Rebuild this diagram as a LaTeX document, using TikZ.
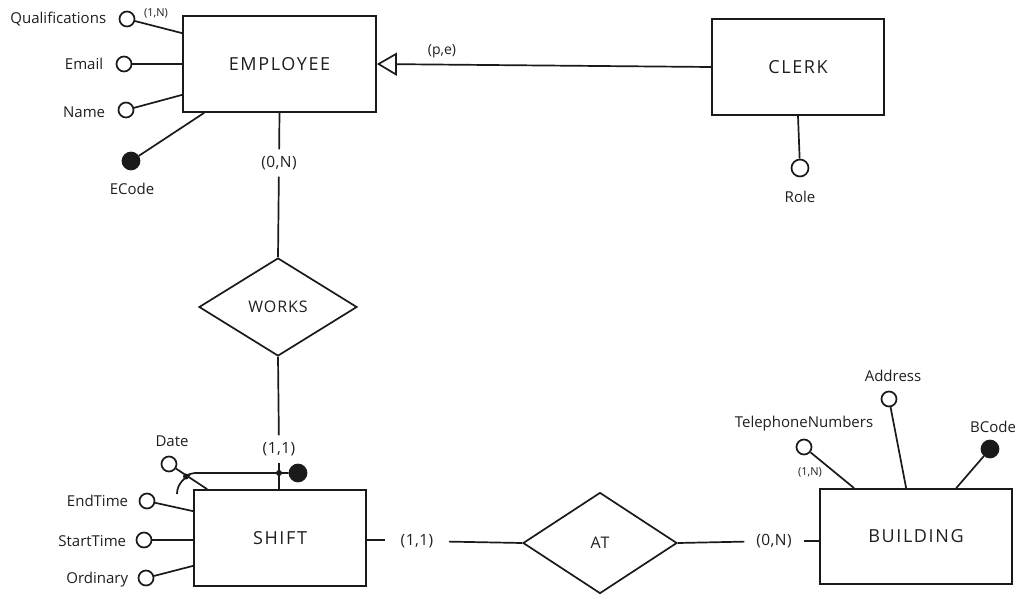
\documentclass[tikz,border=0pt]{standalone}
\usepackage{fontspec}
\setmainfont{Open Sans}
\newfontfamily\entfam[LetterSpace=9]{Open Sans}
\newfontfamily\relfam[LetterSpace=6]{Open Sans}
\newfontfamily\cardfam[LetterSpace=3]{Open Sans}
\usetikzlibrary{shapes.geometric,arrows.meta,calc}
\newcommand\myentfont{\entfam\fontsize{18}{21}\selectfont}
\newcommand\myrelfont{\relfam\fontsize{16}{19}\selectfont}
\newcommand\mylabfont{\fontsize{15}{18}\selectfont}
\newcommand\mycardfont{\cardfam\fontsize{15.5}{18}\selectfont}
\newcommand\mysmallfont{\fontsize{11}{13}\selectfont}
\newcommand\mypefont{\fontsize{14}{16}\selectfont}
\definecolor{ink}{HTML}{1A1A1A}
\definecolor{txt}{HTML}{1F1F1F}
\begin{document}
\begin{tikzpicture}[x=1pt,y=-1pt,
  line width=1.7pt, draw=ink,
  ent/.style={draw=ink, rectangle, inner sep=0pt, font=\myentfont, text=txt},
  attr/.style={draw=ink, circle, fill=white, minimum size=15pt, inner sep=0pt},
  keyattr/.style={draw=ink, circle, fill=ink, minimum size=17pt, inner sep=0pt},
  rel/.style={draw=ink, diamond, inner sep=0pt, font=\myrelfont, text=txt},
  lab/.style={font=\mylabfont, text=txt, inner sep=1pt},
  card/.style={font=\mycardfont, text=txt},
  small/.style={font=\mysmallfont, text=txt, inner sep=1pt},
  jdot/.style={circle, fill=ink, inner sep=0pt, minimum size=6pt},
]
\useasboundingbox[fill=white] (0,0) rectangle (1015,595);

% entities
\node[ent, minimum width=193pt, minimum height=96pt] (emp) at (279.5,64) {EMPLOYEE};
\node[ent, minimum width=172pt, minimum height=96pt] (clerk) at (798,67) {CLERK};
\node[ent, minimum width=172pt, minimum height=96pt] (shift) at (280,538) {SHIFT};
\node[ent, minimum width=192pt, minimum height=95pt] (bld) at (916,536.5) {BUILDING};

% relationships
\node[rel, minimum width=158pt, minimum height=98pt] (works) at (278,307) {WORKS};
\node[rel, minimum width=154pt, minimum height=101pt] (at) at (600,543) {AT};

% EMPLOYEE attributes
\node[attr] (qual) at (127,19) {};
\node[lab, anchor=east] (qualL) at (108,19) {Qualifications};
\node[small] (qualC) at (156,13) {(1,N)};
\node[attr] (email) at (124,64) {};
\node[lab, anchor=east] (emailL) at (105,64) {Email};
\node[attr] (name) at (126,110) {};
\node[lab, anchor=east] (nameL) at (107,112) {Name};
\node[keyattr] (ecode) at (131,161) {};
\node[lab] (ecodeL) at (132,189) {ECode};
\draw (qual) -- ([yshift=-18pt]emp.north west);
\draw (email) -- (emp.west);
\draw (name) -- ([yshift=18pt]emp.south west);
\draw (ecode) -- ([xshift=22pt]emp.south west);

% generalization
\draw[-{Triangle[open,length=20pt,width=23pt,line width=1.7pt]}] (clerk.west) -- (emp.east);
\node[small, font=\mypefont] (pe) at (442,51) {(p,e)};

% CLERK attribute
\node[attr, minimum size=17pt] (role) at (800,168) {};
\node[lab] (roleL) at (800,197) {Role};
\draw (clerk.south) -- (role);

% EMPLOYEE - WORKS - SHIFT
\node[card, inner xsep=2pt, inner ysep=6pt] (c0N) at (279,163) {(0,N)};
\draw (emp.south) -- (c0N);
\draw (c0N) -- (works.north);
\node[card, inner xsep=2pt, inner ysep=6pt] (c11a) at (279,449) {(1,1)};
\draw (works.south) -- (c11a);
\draw (c11a) -- (c11a |- shift.north);

% SHIFT attributes
\node[attr] (date) at (169,464) {};
\node[lab] (dateL) at (172,441) {Date};
\node[attr] (endt) at (147,501) {};
\node[lab, anchor=east] (endtL) at (130,501) {EndTime};
\node[attr] (startt) at (144,540) {};
\node[lab, anchor=east] (starttL) at (128,541) {StartTime};
\node[attr] (ord) at (146,578) {};
\node[lab, anchor=east] (ordL) at (130,580) {Ordinary};
\draw (date) -- ([xshift=14pt]shift.north west);
\draw (endt) -- ([yshift=-22pt]shift.north west);
\draw (startt) -- (startt -| shift.west);
\draw (ord) -- ([yshift=21pt]shift.south west);

% composite identifier
\node[jdot] (jd1) at (186,476.5) {};
\node[jdot] (jd2) at (279,473) {};
\node[keyattr] (sidk) at (298,473) {};
\draw (jd1.center) .. controls (189,474) .. (195,473) -- (sidk);
\coordinate (arcS) at (177,494);
\coordinate (arcE) at (190,475);
\draw (arcS) .. controls (177,486) and (182,479) .. (arcE);

% SHIFT - AT - BUILDING
\coordinate (shE) at ([yshift=-2pt]shift.east);
\node[card, inner xsep=15pt, inner ysep=4pt] (c11b) at (417,541) {(1,1)};
\draw (shE) -- (shE -| c11b.west);
\draw (c11b) -- (at.west);
\node[card, inner xsep=11pt, inner ysep=4pt] (c0Nb) at (774,541) {(0,N)};
\draw (at.east) -- (c0Nb);
\draw (c0Nb) -- (c0Nb -| bld.west);

% BUILDING attributes
\node[attr] (tel) at (804,447) {};
\node[lab] (telL) at (804,424) {TelephoneNumbers};
\node[small] (telC) at (810,472) {(1,N)};
\node[attr] (addr) at (889,399) {};
\node[lab] (addrL) at (893,376) {Address};
\node[keyattr] (bcode) at (990,449) {};
\node[lab] (bcodeL) at (993,427) {BCode};
\draw (tel) -- ([xshift=35pt]bld.north west);
\draw (addr) -- ([xshift=87pt]bld.north west);
\draw (bcode) -- ([xshift=137pt]bld.north west);
\end{tikzpicture}
\end{document}
